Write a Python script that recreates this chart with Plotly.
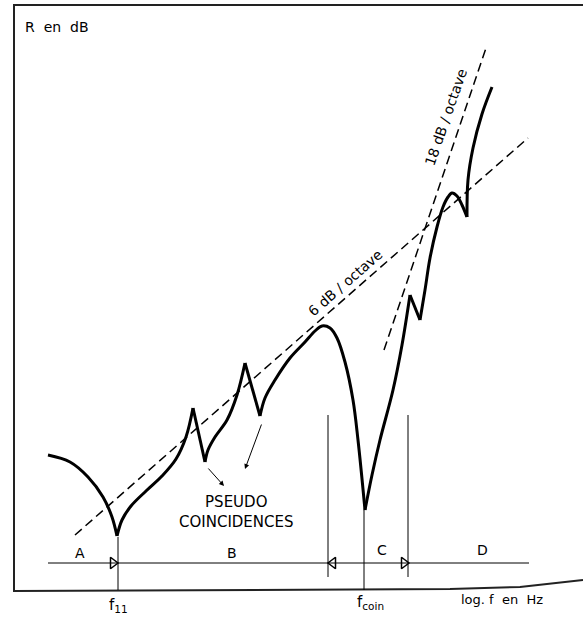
import plotly.graph_objects as go

# courbe R (épaisse), en segments entre les points anguleux
seg_x = [
    [48, 70, 88, 103, 112, 117],
    [117, 122, 131, 146, 162, 176, 186, 193],
    [193, 205],
    [205, 208, 215, 227, 237, 245],
    [245, 260],
    [260, 265, 275, 290, 305, 315, 322, 330, 337, 345, 353, 358, 365],
    [365, 372, 380, 393, 402, 410],
    [410, 420],
    [420, 425, 430, 437, 443, 448, 452, 457, 462, 467],
    [467, 468, 473, 482, 492],
]
seg_y = [
    [455, 462, 477, 497, 517, 536],
    [536, 520, 506, 491, 476, 459, 437, 408],
    [408, 462],
    [462, 450, 437, 420, 395, 363],
    [363, 416],
    [416, 398, 380, 358, 342, 331, 326, 328, 338, 362, 400, 440, 510],
    [510, 475, 440, 390, 345, 295],
    [295, 320],
    [320, 290, 258, 227, 207, 197, 193, 196, 205, 217],
    [217, 180, 148, 114, 87],
]

# droites de pente
slope6_x = [75, 528]
slope6_y = [535, 138]
slope18_x = [384, 487]
slope18_y = [350, 45]

# repères verticaux
vline_x = [118, 328, 364, 408]
vline_top = [537, 415, 510, 415]
vline_bot = [590, 577, 590, 577]

# cadre
frame_x = [583, 14, 14, 300, 450, 520, 583]
frame_y = [5, 5, 591, 590, 589, 587, 580]

# zones
zone_line_x = [48, 529]
zone_line_y = 563
zone_labels = ["A", "B", "C", "D"]
zone_lab_x = [80, 232, 382, 482]
zone_lab_y = [553, 553, 550, 550]
tri_x = [113, 333, 404]
tri_sym = ["triangle-right-open", "triangle-left-open", "triangle-right-open"]

fig = go.Figure()

fig.add_trace(go.Scatter(x=frame_x, y=frame_y, mode="lines",
                         line=dict(color="#222", width=2)))

for xs, ys in zip(seg_x, seg_y):
    fig.add_trace(go.Scatter(x=xs, y=ys, mode="lines", line_shape="spline",
                             line=dict(color="black", width=3)))

fig.add_trace(go.Scatter(x=slope6_x, y=slope6_y, mode="lines",
                         line=dict(color="black", width=1.5, dash="9px,5px")))
fig.add_trace(go.Scatter(x=slope18_x, y=slope18_y, mode="lines",
                         line=dict(color="black", width=1.5, dash="9px,5px")))

for x, t, b in zip(vline_x, vline_top, vline_bot):
    fig.add_trace(go.Scatter(x=[x, x], y=[t, b], mode="lines",
                             line=dict(color="black", width=1)))

fig.add_trace(go.Scatter(x=zone_line_x, y=[zone_line_y] * 2, mode="lines",
                         line=dict(color="black", width=1)))
fig.add_trace(go.Scatter(x=tri_x, y=[zone_line_y] * 3, mode="markers",
                         marker=dict(symbol=tri_sym, size=10, color="black",
                                     line=dict(width=1.5))))

fnt = dict(family="DejaVu Sans", color="black")

for lab, x, y in zip(zone_labels, zone_lab_x, zone_lab_y):
    fig.add_annotation(x=x, y=y, text=lab, showarrow=False, font=dict(size=14, **fnt))

fig.add_annotation(x=23, y=27, text="R  en  dB", showarrow=False, xanchor="left",
                   font=dict(size=14, **fnt))
fig.add_annotation(x=118, y=605, text="f<sub>11</sub>", showarrow=False,
                   font=dict(size=15, **fnt))
fig.add_annotation(x=370, y=602, text="f<sub>coin</sub>", showarrow=False,
                   font=dict(size=15, **fnt))
fig.add_annotation(x=502, y=599, text="log. f  en  Hz", showarrow=False,
                   font=dict(size=13, **fnt))
fig.add_annotation(x=236, y=512, text="PSEUDO<br>COINCIDENCES", showarrow=False,
                   font=dict(size=15, **fnt))
fig.add_annotation(x=345, y=283, text="6 dB / octave", showarrow=False,
                   textangle=-41, font=dict(size=14, **fnt))
fig.add_annotation(x=446, y=117, text="18 dB / octave", showarrow=False,
                   textangle=-71, font=dict(size=14, **fnt))

# flèches
fig.add_annotation(x=224, y=486, ax=207, ay=467, axref="x", ayref="y", text="",
                   showarrow=True, arrowhead=2, arrowsize=1, arrowwidth=1,
                   arrowcolor="black")
fig.add_annotation(x=245, y=469, ax=262, ay=423, axref="x", ayref="y", text="",
                   showarrow=True, arrowhead=2, arrowsize=1, arrowwidth=1,
                   arrowcolor="black")

fig.update_layout(width=583, height=617, margin=dict(l=0, r=0, t=0, b=0),
                  plot_bgcolor="white", paper_bgcolor="white", showlegend=False)
fig.update_xaxes(range=[0, 583], visible=False)
fig.update_yaxes(range=[617, 0], visible=False)

fig.write_html("out.html", config={"displayModeBar": False},
               post_script="document.body.style.margin='0';")
